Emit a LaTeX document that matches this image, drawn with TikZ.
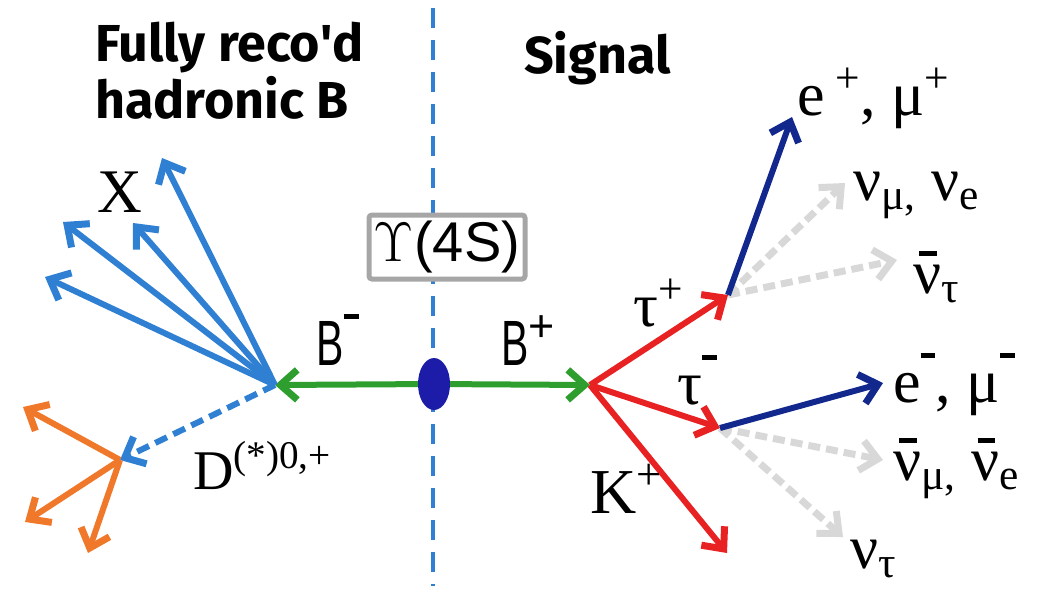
\RequirePackage{fix-cm}
\documentclass[tikz,border=0pt]{standalone}
\usepackage{fontspec}
\usepackage{graphicx}
\setmainfont{Liberation Serif}
\newfontfamily\labelsans{Liberation Sans}
\newfontfamily\titlefont{Fira Sans}
\usetikzlibrary{arrows.meta, positioning, shapes.geometric, calc}

\definecolor{hadblue}{HTML}{2F80D2}
\definecolor{bgreen}{HTML}{2E9E2E}
\definecolor{tred}{HTML}{E82222}
\definecolor{lepblue}{HTML}{13288C}
\definecolor{nugray}{HTML}{D8D8D8}
\definecolor{dorange}{HTML}{F0782A}
\definecolor{upsblue}{HTML}{1C1CA8}
\definecolor{boxgray}{HTML}{A6A6A6}

\newcommand{\antinu}{\makebox[0pt][l]{\kern0.1em\rule[0.6em]{0.28em}{0.07em}}ν}
\newcommand{\chminus}{\rule[0.5em]{0.34em}{0.11em}}
\newcommand{\narrowB}[1]{\scalebox{0.64}[1]{B}\textsuperscript{#1}}

\tikzset{
  track/.style={-{Straight Barb[length=17pt,width=30pt,line width=7pt]}, line width=6pt},
  hadtrack/.style={track, draw=hadblue},
  btrack/.style={track, draw=bgreen},
  tautrack/.style={track, draw=tred},
  leptrack/.style={track, draw=lepblue},
  dtrack/.style={track, draw=dorange},
  dmeson/.style={track, draw=hadblue, dash pattern=on 13pt off 7pt},
  nutrack/.style={track, line width=7pt, draw=nugray, dash pattern=on 12pt off 6pt},
  axis/.style={draw=hadblue, line width=4pt, dash pattern=on 20pt off 12pt},
  upsbox/.style={
    rectangle,
    rounded corners=3pt,
    draw=boxgray,
    fill=white,
    line width=5pt,
    minimum width=156pt,
    minimum height=64pt,
    inner sep=2pt,
    font=\fontsize{56}{56}\selectfont
  },
  upsdot/.style={ellipse, fill=upsblue, minimum width=32pt, minimum height=52pt, inner sep=0pt},
  particle/.style={inner sep=0pt, anchor=base west, font=\fontsize{62}{62}\selectfont},
  blabel/.style={inner sep=0pt, anchor=base west, font=\labelsans\fontsize{64}{64}\selectfont},
  titletext/.style={inner sep=0pt, align=left, font=\titlefont\bfseries\fontsize{52}{57}\selectfont}
}

\begin{document}
\begin{tikzpicture}[x=1pt, y=-1pt]
  \useasboundingbox (0,0) rectangle (1038,590);

  % dividing line and the Upsilon(4S)
  \coordinate (axtop) at (433,8);
  \coordinate (axbot) at (433,586);
  \draw[axis] (axtop) -- (axbot);
  \node[upsbox] (ups4s) at (447,247) {$\Upsilon$\labelsans(4S)};
  \node[upsdot] (ups) at (434,384) {};

  \node[titletext, anchor=north west] (tagtitle) at (95,22)
        {Fully reco\textquotesingle d\\hadronic B};
  \node[titletext, anchor=base west] (sigtitle) at (524,73) {Signal};

  % B mesons
  \coordinate (Bm) at (275,385);
  \coordinate (Bp) at (590,385);
  \draw[btrack] (ups) -- (Bm);
  \draw[btrack] (ups) -- (Bp);
  \node[blabel] (Bmlab) at (316,365) {\narrowB{\chminus}};
  \node[blabel] (Bplab) at (501,365) {\narrowB{+}};

  % tag side
  \coordinate (X1) at (162,158);
  \coordinate (X2) at (133,223);
  \coordinate (X3) at (63,222);
  \coordinate (X4) at (45,277);
  \draw[hadtrack] (Bm) -- (X1);
  \draw[hadtrack] (Bm) -- (X2);
  \draw[hadtrack] (Bm) -- (X3);
  \draw[hadtrack] (Bm) -- (X4);
  \node[particle] (Xlab) at (97,212) {X};

  \coordinate (Dv) at (120,460);
  \draw[dmeson] (Bm) -- (Dv);
  \coordinate (D1) at (23,407);
  \coordinate (D2) at (25,522);
  \coordinate (D3) at (88,553);
  \draw[dtrack] (Dv) -- (D1);
  \draw[dtrack] (Dv) -- (D2);
  \draw[dtrack] (Dv) -- (D3);
  \node[particle, font=\fontsize{56}{56}\selectfont] (Dlab) at (193,489)
        {D\textsuperscript{(*)0,+}};

  % signal side
  \coordinate (taup) at (728,295);
  \coordinate (taum) at (720,428);
  \coordinate (Kp) at (727,553);
  \draw[tautrack] (Bp) -- (taup);
  \draw[tautrack] (Bp) -- (taum);
  \draw[tautrack] (Bp) -- (Kp);
  \node[particle] (tauplab) at (633,326) {τ\textsuperscript{+}};
  \node[particle] (taumlab) at (677,404) {τ\textsuperscript{\chminus}};
  \node[particle, font=\fontsize{64}{64}\selectfont] (Klab) at (590,513) {K\textsuperscript{+}};

  \coordinate (lp) at (792,117);
  \coordinate (nup) at (845,183);
  \coordinate (nutp) at (897,260);
  \draw[nutrack] (taup) -- (nup);
  \draw[nutrack] (taup) -- (nutp);
  \draw[leptrack] (taup) -- (lp);
  \node[particle] (lplab) at (797,115) {e\,\textsuperscript{+}, μ\textsuperscript{+}};
  \node[particle] (nuplab) at (853,200) {ν\textsubscript{μ,} ν\textsubscript{e}};
  \node[particle] (nutplab) at (913,293) {\antinu\textsubscript{τ}};

  \coordinate (lm) at (883,383);
  \coordinate (num) at (883,460);
  \coordinate (nutm) at (843,537);
  \draw[nutrack] (taum) -- (num);
  \draw[nutrack] (taum) -- (nutm);
  \draw[leptrack] (taum) -- (lm);
  \node[particle] (lmlab) at (893,402) {e\textsuperscript{\chminus}, μ\textsuperscript{\chminus}};
  \node[particle] (numlab) at (893,480) {\antinu\textsubscript{μ,} \antinu\textsubscript{e}};
  \node[particle] (nutmlab) at (850,568) {ν\textsubscript{τ}};
\end{tikzpicture}
\end{document}
